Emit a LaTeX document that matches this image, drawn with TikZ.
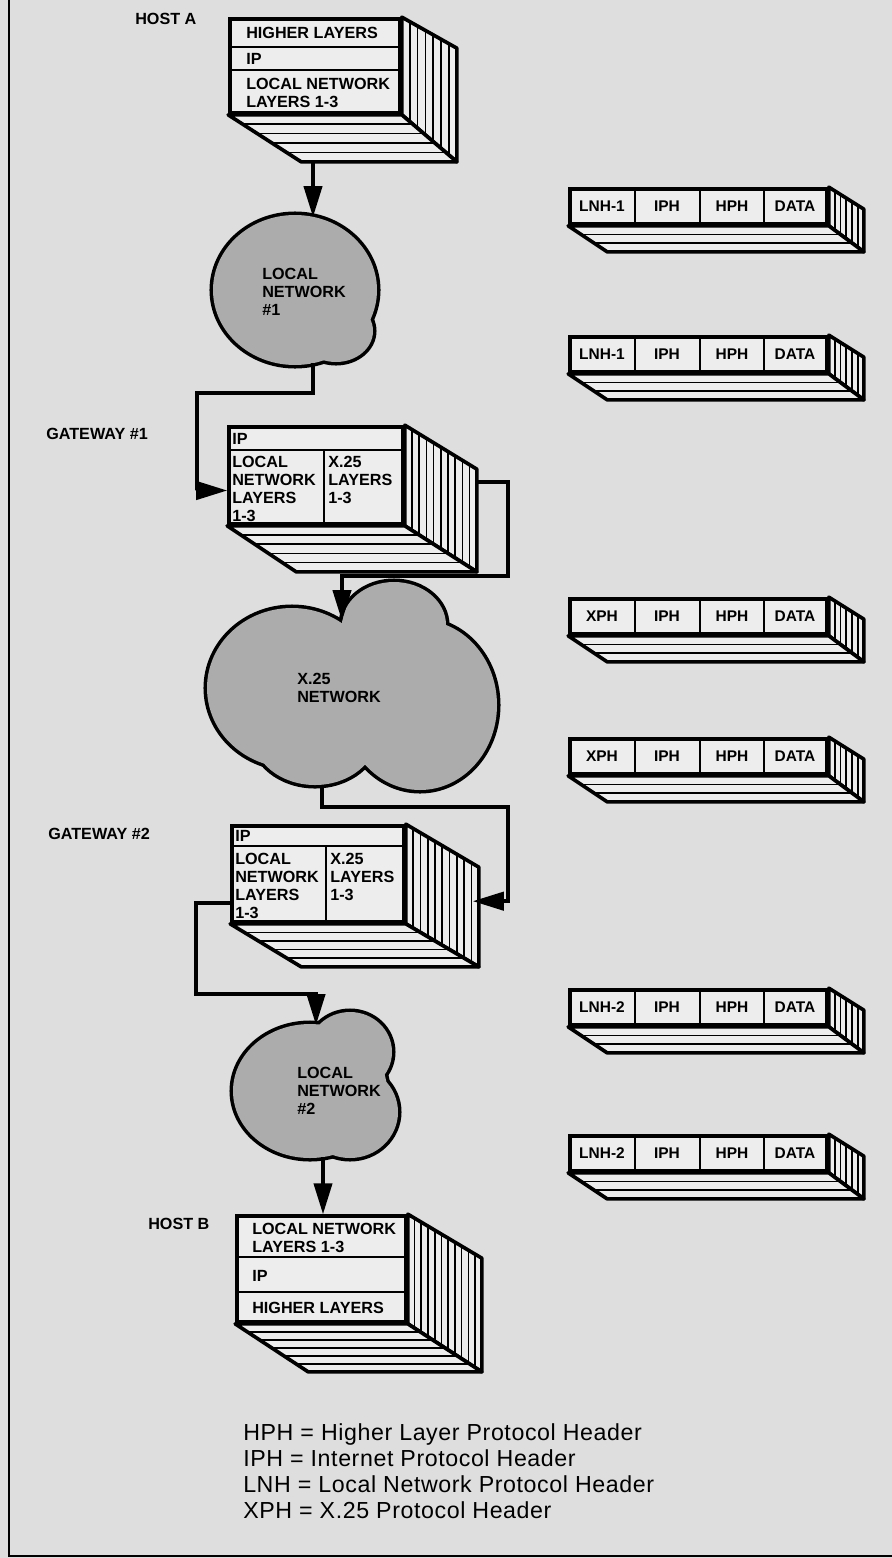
\documentclass[tikz,border=0pt]{standalone}
\usepackage{fontspec}
\setmainfont{Liberation Sans}
\newfontfamily\legendfamily[LetterSpace=2.5]{Liberation Sans}
\usetikzlibrary{arrows.meta,calc,fit}
\definecolor{paper}{RGB}{222,222,222}
\definecolor{facewhite}{RGB}{237,237,237}
\definecolor{cloudgray}{RGB}{172,172,172}

% right and bottom faces of a layer stack, hung on the front node #1
\newcommand{\slab}[7]{%
  \coordinate (#1-ne) at ($(#1.north east)+(#2,#3)$);
  \coordinate (#1-se) at ($(#1.south east)+(#2,#4)$);
  \coordinate (#1-sw) at ($(#1.south west)+(#5,#4)$);
  \filldraw[sideface] (#1.north east) -- (#1-ne) -- (#1-se) -- (#1.south east) -- cycle;
  \filldraw[sideface] (#1.south west) -- (#1.south east) -- (#1-se) -- (#1-sw) -- cycle;
  \foreach \k in {1,...,#6}
    \draw[stripe] ($(#1.north east)!{\k/(#6+1)}!(#1-ne)$) -- ($(#1.south east)!{\k/(#6+1)}!(#1-se)$);
  \foreach \k in {1,...,#7}
    \draw[stripe] ($(#1.south west)!{\k/(#7+1)}!(#1-sw)$) -- ($(#1.south east)!{\k/(#7+1)}!(#1-se)$);
}
% cloud as a union of lobes: outlines first, fills on top
\newcommand{\cloud}[1]{%
  \foreach \cx/\cy/\rx/\ry in {#1}
    \draw[line width=5pt] (\cx,\cy) ellipse [x radius=\rx, y radius=\ry];
  \foreach \cx/\cy/\rx/\ry in {#1}
    \fill[cloudgray] (\cx,\cy) ellipse [x radius=\rx, y radius=\ry];
}

\begin{document}
\begin{tikzpicture}[x=0.025cm, y=-0.025cm,
    frontface/.style={draw, line width=2.6pt, fill=facewhite, inner sep=0pt},
    sideface/.style={line width=2.6pt, fill=facewhite, line join=round},
    stripe/.style={line width=1.2pt},
    rowline/.style={line width=1.8pt},
    cellline/.style={line width=1pt},
    lbl/.style={font=\bfseries\fontsize{11.5}{12.8}\selectfont, inner sep=0pt, align=left},
    cell/.style={font=\bfseries\fontsize{11}{12}\selectfont, inner sep=0pt},
    link/.style={line width=2.4pt, -{Triangle[length=22pt,width=13pt]}}
]
\fill[paper] (0,0) rectangle (892,1558);
\useasboundingbox (0,0) rectangle (892,1558);
\draw[line width=2pt] (9,0) -- (9,1556) -- (892,1556);

% host A
\node[lbl, anchor=west] (hostAlbl) at (135,19) {HOST A};
\node[frontface, fit={(230,19) (400,113)}] (hostA) {};
\slab{hostA}{55}{31}{47}{73}{6}{4}
\draw[rowline] (230,47) -- (400,47) (230,70) -- (400,70);
\node[lbl, anchor=west] (hostAhl) at (246,33) {HIGHER LAYERS};
\node[lbl, anchor=west] (hostAip) at (246,59) {IP};
\node[lbl, anchor=north west] (hostAln) at (246,78) {LOCAL NETWORK\\LAYERS 1-3};

% local network 1
\cloud{295/290/82/75, 336/331/37/31}
\node[lbl, anchor=north west] (ln1) at (262,268) {LOCAL\\NETWORK\\\#1};
\coordinate (ln1in) at (313,217);
\coordinate (ln1out) at (313,363);

% gateway 1
\node[lbl, anchor=west] (gw1lbl) at (46,434) {GATEWAY \#1};
\node[frontface, fit={(229,427) (403,524)}] (gw1) {};
\slab{gw1}{72}{44}{46}{69}{9}{4}
\draw[rowline] (229,450) -- (403,450) (324,450) -- (324,524);
\node[lbl, anchor=west] (gw1ip) at (232,439) {IP};
\node[lbl, anchor=north west] (gw1ln) at (232,456) {LOCAL\\NETWORK\\LAYERS\\1-3};
\node[lbl, anchor=north west] (gw1x) at (328,456) {X.25\\LAYERS\\1-3};
\coordinate (gw1in) at ($(gw1.west)+(0,15)$);
\coordinate (gw1out) at ($(gw1-ne)+(0,13)$);

% X.25 network
\cloud{394/625/52/43, 292/688/85/80, 420/705/77/85, 315/735/62/50}
\node[lbl, anchor=north west] (x25) at (297,673) {X.25\\NETWORK};
\coordinate (x25in) at (342,621);
\coordinate (x25out) at (322,785);

% gateway 2
\node[lbl, anchor=west] (gw2lbl) at (48,834) {GATEWAY \#2};
\node[frontface, fit={(232,826) (404,922)}] (gw2) {};
\slab{gw2}{73}{43}{43}{71}{9}{4}
\draw[rowline] (232,846) -- (404,846) (326,846) -- (326,922);
\node[lbl, anchor=west] (gw2ip) at (235,836) {IP};
\node[lbl, anchor=north west] (gw2ln) at (235,853) {LOCAL\\NETWORK\\LAYERS\\1-3};
\node[lbl, anchor=north west] (gw2x) at (330,853) {X.25\\LAYERS\\1-3};
\coordinate (gw2in) at ($(gw2-ne)+(-6,34)$);
\coordinate (gw2out) at ($(gw2.west)+(0,29)$);

% local network 2
\cloud{310/1091/77/67, 350/1052/42/40, 350/1112/48/46}
\node[lbl, anchor=north west] (ln2) at (297,1067) {LOCAL\\NETWORK\\\#2};
\coordinate (ln2in) at (316,1025);
\coordinate (ln2out) at (323,1157);

% host B
\node[lbl, anchor=west] (hostBlbl) at (148,1224) {HOST B};
\node[frontface, fit={(237,1216) (406,1322)}] (hostB) {};
\slab{hostB}{74}{44}{48}{73}{10}{5}
\draw[rowline] (237,1257) -- (406,1257) (237,1292) -- (406,1292);
\node[lbl, anchor=north west] (hostBln) at (252,1223) {LOCAL NETWORK\\LAYERS 1-3};
\node[lbl, anchor=west] (hostBip) at (252,1276) {IP};
\node[lbl, anchor=west] (hostBhl) at (252,1308) {HIGHER LAYERS};

% packets on the right
\foreach \nm/\y/\hd in {p1/189/LNH-1, p2/337/LNH-1, p3/599/XPH, p4/739/XPH, p5/990/LNH-2, p6/1136/LNH-2}{
  \node[frontface, fit={(570,\y) (827,{\y+35})}] (\nm) {};
  \slab{\nm}{35}{22}{26}{39}{5}{2}
  \foreach \xx in {635,700,764}
    \draw[cellline] (\xx,\y) -- (\xx,{\y+35});
  \node[cell] (\nm-h) at (602,{\y+17.5}) {\hd};
  \node[cell] (\nm-i) at (667,{\y+17.5}) {IPH};
  \node[cell] (\nm-p) at (732,{\y+17.5}) {HPH};
  \node[cell] (\nm-d) at (795,{\y+17.5}) {DATA};
}

% connectors
\draw[link] (hostA-sw -| ln1in) -- (ln1in);
\draw[link] (ln1out) -- ++(0,30) -| ($(gw1in)+(-30,0)$) -- (gw1in);
\draw[link] (gw1out) -- ++(31,0) |- ($(x25in)+(0,-45)$) -- (x25in);
\draw[link] (x25out) -- ++(0,22) -| ($(gw2in)+(35,0)$) -- (gw2in);
\draw[link] (gw2out) -- ++(-34,0) |- ($(ln2in)+(0,-31)$) -- (ln2in);
\draw[link] (ln2out) -- (ln2out |- hostB.north);

% legend
\node[anchor=north west, inner sep=0pt, align=left,
      font=\legendfamily\fontsize{16.5}{18.6}\selectfont] (legend) at (243,1423)
  {HPH = Higher Layer Protocol Header\\
   IPH = Internet Protocol Header\\
   LNH = Local Network Protocol Header\\
   XPH = X.25 Protocol Header};
\end{tikzpicture}
\end{document}
